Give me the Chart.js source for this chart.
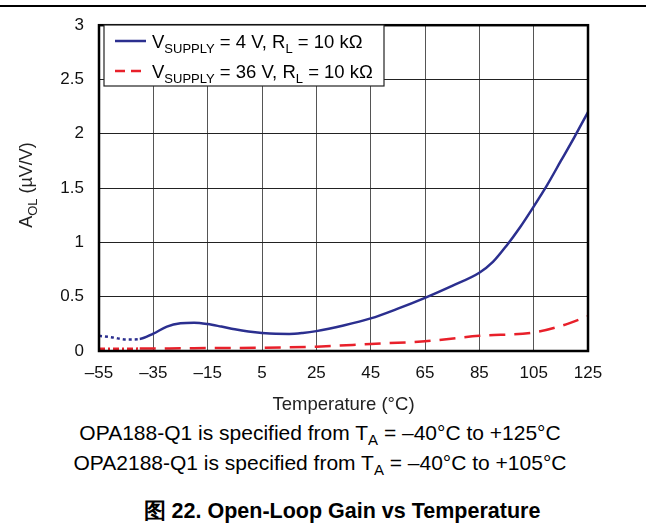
<!DOCTYPE html>
<html>
<head>
<meta charset="utf-8">
<script src="https://cdn.jsdelivr.net/npm/chart.js@4.4.1/dist/chart.umd.min.js"></script>
<style>
  body { margin: 0; background: #fff; font-family: "Liberation Sans", Arial, sans-serif; }
  #wrap { position: relative; width: 646px; height: 523px; overflow: hidden; }
  #rule { position: absolute; left: 0; top: 5px; width: 646px; height: 2px; background: #000; }
  canvas { position: absolute; left: 0; top: 0; }
  .note { position: absolute; left: 0; width: 640px; text-align: center; font-size: 21px; color: #000; white-space: nowrap; }
  .note sub { font-size: 15px; vertical-align: -5px; line-height: 0; }
  #cap { position: absolute; left: 0; width: 684px; text-align: center; top: 496px; font-size: 21.5px; font-weight: bold; white-space: nowrap; }
</style>
</head>
<body>
<div id="wrap">
  <canvas id="gainChart" width="646" height="420"></canvas>
  <div id="rule"></div>
  <div class="note" style="top:421px">OPA188-Q1 is specified from T<sub>A</sub> = –40°C to +125°C</div>
  <div class="note" style="top:451px">OPA2188-Q1 is specified from T<sub>A</sub> = –40°C to +105°C</div>
  <div id="cap">图 22. Open-Loop Gain vs Temperature</div>
</div>
<script>
const temps4V = [-55, -50, -45, -40, -35, -30, -25, -20, -15, -10, -5, 0, 5, 10, 15, 20, 25, 35, 45, 55, 65, 75, 85, 90, 95, 100, 105, 110, 115, 120, 125];
const gain4V = [0.14, 0.125, 0.105, 0.11, 0.16, 0.225, 0.255, 0.26, 0.248, 0.225, 0.2, 0.18, 0.166, 0.158, 0.157, 0.166, 0.183, 0.235, 0.3, 0.39, 0.49, 0.6, 0.72, 0.82, 0.97, 1.14, 1.33, 1.53, 1.75, 1.97, 2.2];
const temps36V = [-55, -40, -20, 5, 25, 45, 65, 85, 105, 115, 125];
const gain36V = [0.02, 0.022, 0.026, 0.03, 0.04, 0.065, 0.09, 0.14, 0.17, 0.23, 0.32];
const xTicks = [-55, -35, -15, 5, 25, 45, 65, 85, 105, 125];
const yTicks = [0, 0.5, 1, 1.5, 2, 2.5, 3];
const legendLabels = [
  { main: 'V', sub: 'SUPPLY', rest: ' = 4 V, R', sub2: 'L', end: ' = 10 kΩ' },
  { main: 'V', sub: 'SUPPLY', rest: ' = 36 V, R', sub2: 'L', end: ' = 10 kΩ' }
];

const FONT = '"Liberation Sans", Arial, sans-serif';

const toPoints = (xs, ys) => xs.map((x, i) => ({ x: x, y: ys[i] }));

// draws text pieces with subscripts, returns end x
function drawRich(ctx, x, y, parts, size) {
  parts.forEach(p => {
    if (!p.t) return;
    ctx.font = (p.s ? Math.round(size * 0.72) : size) + 'px ' + FONT;
    ctx.fillText(p.t, x, p.s ? y + size * 0.25 : y);
    x += ctx.measureText(p.t).width;
  });
  return x;
}

function richWidth(ctx, parts, size) {
  let w = 0;
  parts.forEach(p => {
    ctx.font = (p.s ? Math.round(size * 0.72) : size) + 'px ' + FONT;
    w += ctx.measureText(p.t).width;
  });
  return w;
}

const extras = {
  id: 'extras',
  afterDraw(chart) {
    const { ctx, chartArea: a } = chart;
    ctx.save();
    // plot frame
    ctx.strokeStyle = '#000';
    ctx.lineWidth = 2.5;
    ctx.strokeRect(a.left, a.top, a.right - a.left, a.bottom - a.top);

    // legend box
    const bx = 104, by = 25, bw = 280, bh = 61;
    ctx.fillStyle = '#fff';
    ctx.fillRect(bx, by, bw, bh);
    ctx.lineWidth = 1.2;
    ctx.strokeStyle = '#222';
    ctx.strokeRect(bx, by, bw, bh);
    const colors = ['#2b2f8f', '#e8202a'];
    const dashes = [[], [10, 6]];
    legendLabels.forEach((l, i) => {
      const ly = 41 + i * 30;
      ctx.beginPath();
      ctx.setLineDash(dashes[i]);
      ctx.strokeStyle = colors[i];
      ctx.lineWidth = 2.5;
      ctx.moveTo(115, ly);
      ctx.lineTo(146, ly);
      ctx.stroke();
      ctx.setLineDash([]);
      ctx.fillStyle = '#000';
      ctx.textBaseline = 'alphabetic';
      ctx.textAlign = 'left';
      drawRich(ctx, 152, ly + 7, [
        { t: l.main }, { t: l.sub, s: true }, { t: l.rest }, { t: l.sub2, s: true }, { t: l.end }
      ], 18.5);
    });

    // y axis title with subscript
    const yTitle = [{ t: 'A' }, { t: 'OL', s: true }, { t: ' (µV/V)' }];
    ctx.translate(32, 185);
    ctx.rotate(-Math.PI / 2);
    ctx.fillStyle = '#222';
    drawRich(ctx, -richWidth(ctx, yTitle, 18) / 2, 0, yTitle, 18);
    ctx.restore();
  }
};

new Chart(document.getElementById('gainChart'), {
  type: 'line',
  data: {
    datasets: [
      {
        label: 'VSUPPLY = 4 V, RL = 10 kΩ',
        data: toPoints(temps4V, gain4V),
        borderColor: '#2b2f8f',
        borderWidth: 2.5,
        pointRadius: 0,
        cubicInterpolationMode: 'monotone',
        segment: { borderDash: c => c.p1.parsed.x <= -40 ? [3, 3] : undefined }
      },
      {
        label: 'VSUPPLY = 36 V, RL = 10 kΩ',
        data: toPoints(temps36V, gain36V),
        borderColor: '#e8202a',
        borderWidth: 2.5,
        borderDash: [16, 9],
        pointRadius: 0,
        cubicInterpolationMode: 'monotone',
        segment: { borderDash: c => c.p1.parsed.x <= -40 ? [6, 3, 2, 3] : undefined }
      }
    ]
  },
  options: {
    responsive: false,
    animation: false,
    layout: { padding: { left: 0, right: 58, top: 19, bottom: 0 } },
    plugins: { legend: { display: false }, tooltip: { enabled: false } },
    scales: {
      x: {
        type: 'linear',
        min: -55,
        max: 125,
        afterBuildTicks: s => { s.ticks = xTicks.map(v => ({ value: v })); },
        afterFit: s => { s.height = 69; },
        grid: { color: '#555', lineWidth: 1, drawTicks: false },
        border: { display: false },
        ticks: {
          padding: 12,
          color: '#111',
          font: { family: FONT, size: 17 },
          maxRotation: 0,
          callback: v => String(v).replace('-', '–')
        },
        title: {
          display: true,
          text: 'Temperature (°C)',
          color: '#222',
          font: { family: FONT, size: 18.5 },
          padding: { top: 3 }
        }
      },
      y: {
        min: 0,
        max: 3,
        afterBuildTicks: s => { s.ticks = yTicks.map(v => ({ value: v })); },
        afterFit: s => { s.width = 99; },
        grid: { color: '#222', lineWidth: 1, drawTicks: false },
        border: { display: false },
        ticks: {
          padding: 15,
          color: '#111',
          font: { family: FONT, size: 17 },
          callback: v => String(v)
        }
      }
    }
  },
  plugins: [extras]
});
</script>
</body>
</html>
